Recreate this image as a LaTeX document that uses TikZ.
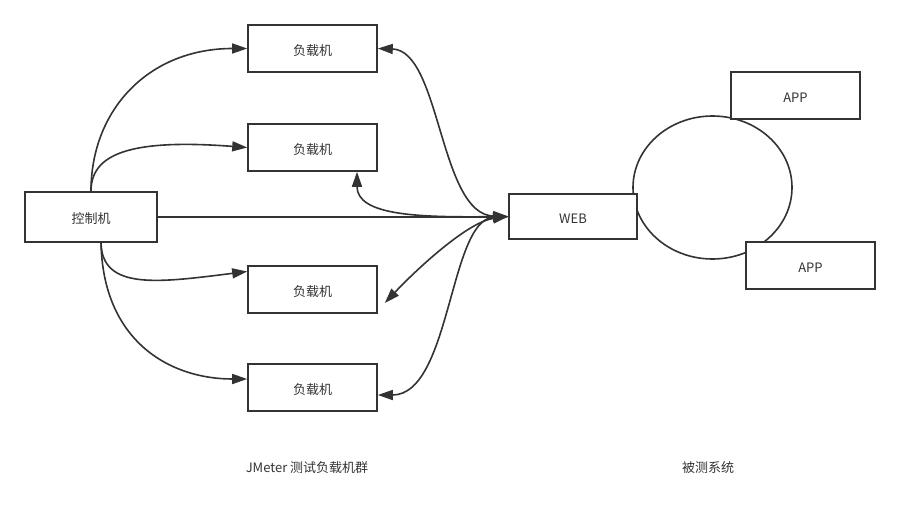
\documentclass[tikz,border=0pt]{standalone}
\usepackage{fontspec}
\setmainfont{Noto Sans CJK SC}
\usetikzlibrary{arrows.meta,shapes.geometric}
\definecolor{ink}{HTML}{333333}
\tikzset{
  box/.style={draw=ink, line width=1.6pt, fill=white, minimum width=129pt, minimum height=47pt, inner sep=0pt, text=ink, font=\fontsize{13}{15}\selectfont, text depth=0pt, text height=13.5pt},
  lbl/.style={text=ink, font=\fontsize{13}{15}\selectfont, inner sep=0pt},
  conn/.style={draw=ink, line width=1.6pt},
  tip/.tip={Triangle[length=15pt,width=10pt]}
}
\begin{document}
\begin{tikzpicture}[x=1pt,y=-1pt]
\useasboundingbox (0,0) rectangle (900,512);
% ellipse behind
\node[draw=ink, line width=1.6pt, ellipse, minimum width=159pt, minimum height=143pt, inner sep=0pt] (ring) at (712.5,187.5) {};
% nodes
\node[box, minimum width=132pt, minimum height=50pt] (ctrl) at (91,217) {控制机};
\node[box] (l1) at (312.5,48.5) {负载机};
\node[box] (l2) at (312.5,147.5) {负载机};
\node[box] (l3) at (312.5,289.5) {负载机};
\node[box] (l4) at (312.5,387.5) {负载机};
\node[box, minimum width=128pt, minimum height=45pt] (web) at (573,216.5) {WEB};
\node[box] (app1) at (795.5,95.5) {APP};
\node[box] (app2) at (810.5,265.5) {APP};
\node[lbl] (t1) at (307,468) {JMeter 测试负载机群};
\node[lbl] (t2) at (708,468) {被测系统};
% coordinates (pixel offsets: y grows downward)
\coordinate (cs) at ([xshift=10pt]ctrl.south);
\coordinate (l1e) at (l1.west);
\coordinate (l2e) at (l2.west);
\coordinate (l3e) at ([yshift=18pt]l3.west);
\coordinate (l4e) at ([yshift=8.5pt]l4.west);
\coordinate (l2b) at ([xshift=44.5pt]l2.south);
\coordinate (l3r) at ([xshift=7pt,yshift=-13.5pt]l3.east);
\coordinate (l4r) at ([yshift=-7.5pt]l4.east);
% controller connectors
\draw[conn, -{tip}] (ctrl.north) .. controls +(0,-82) and +(-98,0) .. (l1e);
\draw[conn, -{tip}] (ctrl.north) .. controls +(0,-37) and +(-118,-9) .. (l2e);
\draw[conn, -{tip}] (ctrl.east) -- (ctrl.east -| web.west);
\draw[conn, -{tip}] (cs) .. controls +(1,48) and +(-88,11) .. (l3e);
\draw[conn, -{tip}] (cs) .. controls +(2,98) and +(-78,0) .. (l4e);
% web connectors
\draw[conn, {tip}-{tip}] (l1.east) .. controls +(63,2) and +(-69,-2) .. (web.west);
\draw[conn, {tip}-{tip}] (l2b) .. controls +(0,44) and +(-89,1) .. (web.west);
\draw[conn, {tip}-{tip}] (l3r) .. controls +(36,-38) and +(-39,5) .. (web.west);
\draw[conn, {tip}-{tip}] (l4r) .. controls +(73,0) and +(-59,3) .. (web.west);
\end{tikzpicture}
\end{document}
